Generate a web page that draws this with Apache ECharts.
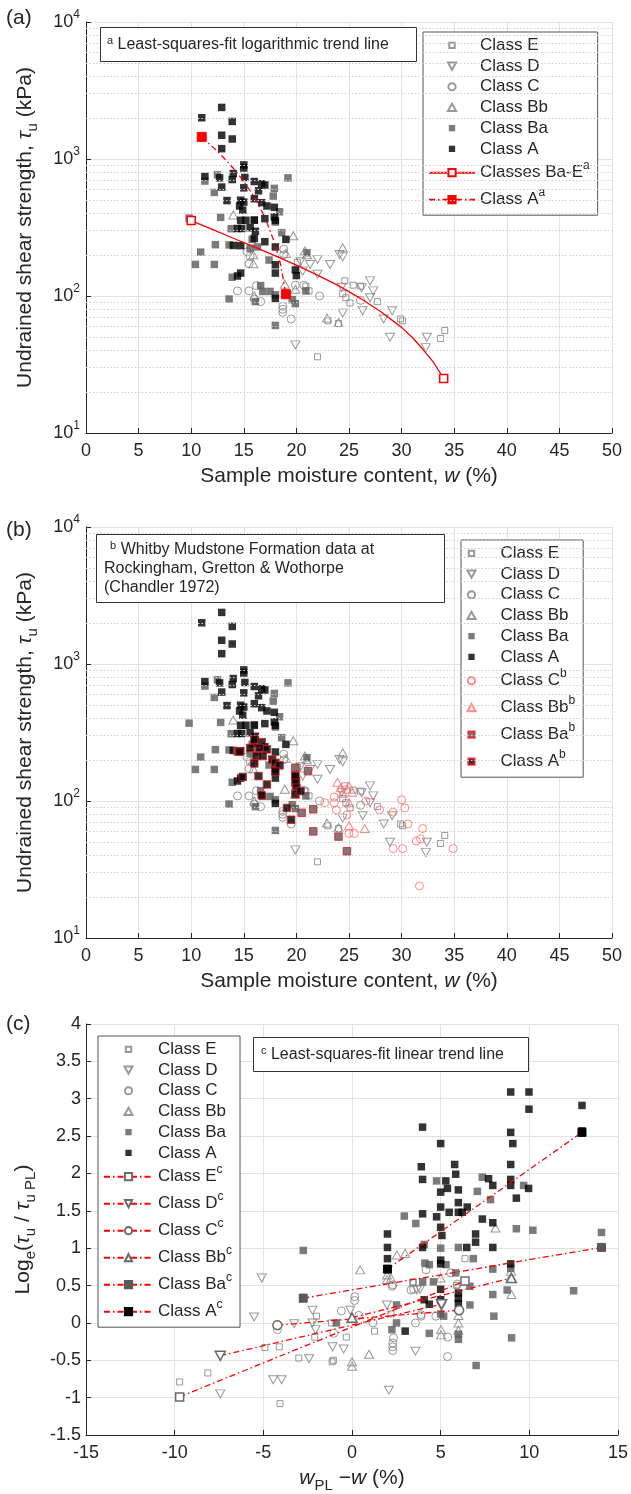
<!DOCTYPE html>
<html>
<head>
<meta charset="utf-8">
<script src="https://cdn.jsdelivr.net/npm/echarts/dist/echarts.min.js"></script>
<style>
  html, body { margin: 0; padding: 0; background: #fff; }
  #chart { width: 631px; height: 1494px; }
</style>
</head>
<body>
<div id="chart"></div>
<script>
// ---------- Panel (a) / (b): shear strength vs moisture content  [w (%), tau_u (kPa)] ----------
const wClassE = [[20.1,176],[20.9,118],[21.2,109],[22.0,36],[23.0,66],[24.0,63],[24.4,104],[24.6,129],[24.7,97],[25.1,89],[25.4,120],[26.1,118],[27.7,91],[29.9,68],[30.1,66],[33.7,49],[34.1,56]];
const wClassD = [[19.9,44],[20.4,178],[20.6,152],[21.3,170],[22.0,185],[22.0,144],[23.2,170],[24.1,201],[24.4,193],[24.3,116],[24.4,75],[26.2,115],[26.3,78],[27.0,129],[27.3,109],[27.0,97],[28.3,68],[28.9,50],[29.1,78],[32.4,50],[32.3,42]];
const wClassC = [[14.4,109],[15.5,109],[16.2,119],[16.6,91],[16.0,95],[15.3,210],[15.6,195],[18.8,220],[18.8,200],[18.7,84],[18.7,80],[18.7,76],[19.5,68],[19.9,120],[20.7,120],[22.2,100],[26.1,93],[15.5,172]];
const wClassBb = [[14.0,390],[15.9,172],[15.9,200],[16.0,100],[19.0,205],[19.7,275],[19.9,112],[20.8,213],[21.0,200],[22.9,69],[24.0,64],[24.4,225],[18.9,122]];
const wClassBa = [[9.8,370],[10.4,170],[10.9,209],[11.3,690],[12.2,570],[12.2,170],[12.3,237],[12.5,766],[12.8,375],[13.6,236],[13.6,95],[13.8,310],[13.9,137],[15.8,259],[16.0,360],[16.3,228],[15.6,223],[17.4,183],[16.6,119],[17.5,108],[16.8,108],[16.1,91],[17.9,610],[19.2,728],[17.8,536],[18.4,412],[18.0,347],[18.6,290],[18.0,102],[18.0,61],[19.6,94],[19.9,88],[21.0,207],[20.9,109]];
const wClassA = [[12.9,2380],[11.0,2000],[13.9,1880],[12.9,1490],[13.9,1400],[12.9,1190],[15.0,905],[15.0,860],[11.3,745],[12.7,728],[14.0,783],[13.9,708],[15.1,733],[16.0,685],[16.7,660],[17.0,646],[12.9,624],[15.0,616],[16.4,586],[13.4,497],[14.7,500],[15.0,485],[16.0,513],[16.7,480],[17.2,454],[17.9,444],[14.6,454],[14.9,423],[15.2,357],[14.7,357],[16.0,357],[17.0,367],[18.0,356],[17.9,378],[14.4,311],[14.8,311],[15.6,315],[16.1,297],[14.0,234],[14.7,233],[16.0,263],[17.0,249],[19.0,259],[18.0,228],[14.7,147],[14.4,140],[18.0,169],[18.0,147],[19.9,155],[20.0,141],[18.0,96]];

// logarithmic trend lines (a)
const trendBaE = [[10,355],[12,306],[14,264],[16,228],[18,196],[20,168],[22,142],[24,119],[26,97],[28,77],[30,59],[31,50],[32,41],[33,33],[34,25]];
const trendA = [[11,1450],[12,1236],[13,1039],[14,856],[15,686],[16,527],[17,377],[18,236],[18.5,169],[19,103]];

// Chandler (1972) Whitby Mudstone data (b)
const chandlerC = [[23.6,107],[22.7,97],[23.6,97],[23.8,86],[24.8,79],[25.5,58],[25.0,58],[26.6,100],[27.9,86],[29.2,83],[30.0,102],[30.3,89],[30.6,68],[29.2,45],[30.1,45],[32.0,63],[31.8,53],[31.4,51],[31.7,24],[34.9,45],[24.7,121]];
const chandlerBb = [[23.9,137],[25.0,129],[25.3,116],[24.4,114],[25.0,97],[25.0,66],[26.5,63],[24.2,125]];
const chandlerBa = [[21.1,165],[20.5,82],[21.6,87],[21.6,60],[24.0,55],[24.8,43],[19.9,175],[14.4,230]];
const chandlerA = [[16.0,281],[16.7,269],[15.6,244],[16.5,244],[17.2,238],[14.6,229],[16.2,213],[16.8,213],[17.7,201],[18.0,190],[18.4,182],[16.0,188],[14.9,150],[16.4,152],[18.0,164],[17.2,132],[19.9,152],[19.9,136],[20.0,125],[19.9,112],[20.4,118],[16.7,110],[19.1,89],[19.5,73]];

// ---------- Panel (c): Log_e(tau_u / tau_uPL) vs (w_PL - w)  [x (%), y] ----------
const dClassE = [[-9.72,-0.79],[-9.72,-0.99],[-8.13,-0.67],[-4.91,-0.33],[-4.1,-0.32],[-4.06,-1.08],[-3.0,-0.47],[-2.1,-0.19],[-1.12,-0.52],[-1.05,-0.5],[-0.32,-0.19],[-2.0,0.09],[-1.16,0.0],[1.27,-0.11],[3.46,0.55],[6.37,0.86],[6.37,0.55],[3.42,0.54],[2.2,0.12],[5.9,0.5]];
const dClassD = [[-7.43,-0.44],[-7.43,-0.95],[-5.52,0.08],[-5.09,0.60],[-3.26,-0.01],[-2.23,0.17],[-2.23,0.0],[-2.06,-0.09],[-1.1,-0.32],[-0.47,-0.35],[-2.42,-0.48],[-4.44,-0.76],[-3.97,-0.76],[-0.09,0.17],[2.08,-0.9],[1.97,0.24],[3.58,-0.38],[3.84,0.45],[5.02,0.24],[3.66,0.44],[5.05,0.22]];
const dClassC = [[-4.21,-0.02],[-4.21,-0.09],[-0.6,0.16],[0.15,0.35],[0.15,0.30],[0.39,0.1],[1.18,0.0],[2.3,-0.27],[2.3,-0.32],[2.3,-0.37],[2.3,0.51],[2.34,-0.2],[3.33,0.44],[3.58,0.0],[4.18,0.71],[5.39,-0.45],[3.9,0.09],[-1.03,-0.14],[3.48,0.45],[2.26,0.49],[5.57,0.67],[5.94,0.52],[6.04,0.18],[4.73,0.09],[3.89,0.11],[5.4,-0.19]];
const dClassBb = [[0.46,0.71],[1.97,0.64],[1.97,0.58],[3.0,0.93],[2.53,0.91],[0.96,-0.42],[0.0,0.07],[0.0,-0.52],[0.0,-0.58],[5.02,-0.09],[5.02,-0.16],[8.09,1.27],[8.97,0.69],[8.97,0.62],[8.99,0.38],[5.0,0.6],[6.0,0.1],[6.0,0.0],[6.0,-0.1],[2.2,0.6]];
const dClassBa = [[-2.75,0.97],[-2.75,0.34],[2.51,0.24],[2.25,-0.09],[2.51,0.0],[-0.88,0.0],[3.99,0.55],[4.59,0.55],[4.36,0.78],[5.3,0.78],[5.17,0.09],[4.36,-0.14],[4.77,1.90],[7.35,1.95],[7.81,1.65],[9.68,1.84],[7.07,1.76],[2.95,1.43],[3.6,1.33],[9.27,1.26],[10.2,1.24],[14.07,1.21],[14.07,1.01],[12.5,0.43],[4.07,1.05],[6.0,1.01],[6.84,0.86],[7.94,0.72],[7.94,0.38],[8.95,0.73],[8.75,0.44],[8.0,0.09],[4.11,0.80],[5.85,0.67],[6.65,0.49],[6.65,0.24],[9.0,-0.2],[7.0,-0.57],[5.0,1.0],[6.0,-0.22],[6.0,-0.15],[5.0,0.12]];
const dClassA = [[8.95,3.09],[9.98,3.09],[9.98,2.86],[12.97,2.91],[12.97,2.57],[8.95,2.55],[9.07,2.40],[8.95,2.12],[3.98,2.62],[5.0,2.40],[3.91,2.09],[3.98,1.92],[5.85,1.99],[5.29,1.90],[5.0,1.75],[5.38,1.80],[6.0,1.78],[5.79,2.12],[7.7,1.93],[7.94,1.84],[8.95,1.92],[8.95,1.84],[9.96,1.80],[9.27,1.67],[5.0,1.55],[3.98,1.46],[4.77,1.42],[5.48,1.48],[6.0,1.61],[6.0,1.48],[6.5,1.55],[6.22,1.48],[7.35,1.39],[7.94,1.34],[2.0,1.19],[2.0,1.01],[2.0,0.86],[2.0,0.72],[3.98,1.01],[5.0,1.28],[5.07,1.17],[6.97,1.19],[6.97,1.08],[6.47,1.01],[7.94,1.01],[5.0,0.84],[5.0,0.79],[8.95,0.79],[5.0,0.45],[4.07,0.31],[4.36,0.25],[6.0,0.40],[6.0,0.33],[6.0,0.26],[3.0,-0.11],[5.0,0.31]];

// linear trend lines (c)
const lineE = [[-9.72,-0.99],[6.37,0.56]];
const lineD = [[-7.43,-0.44],[5.05,0.25]];
const lineC = [[-4.21,-0.03],[6.04,0.17]];
const lineBb = [[0.0,0.07],[8.99,0.60]];
const lineBa = [[-2.75,0.33],[14.07,1.01]];
const lineA = [[2.0,0.72],[12.97,2.55]];

// ---------- styling ----------
const FONT = '"Liberation Sans", Arial, Helvetica, sans-serif';
const INK = '#262626';
const GREY = '#808080';
const BA_FILL = '#5a5a5a';
const RED = '#ff0000';
const PINK = '#ff6c6c';
const DASHDOT = [6, 3, 1.5, 3];

const hollow = (c, w) => ({ color: 'rgba(255,255,255,0)', borderColor: c, borderWidth: w || 1 });

const classStyle = {
  E:  { symbol: 'rect', symbolSize: 6, itemStyle: hollow(GREY) },
  D:  { symbol: 'triangle', symbolRotate: 180, symbolSize: [9, 8], itemStyle: hollow(GREY) },
  C:  { symbol: 'circle', symbolSize: 8, itemStyle: hollow(GREY) },
  Bb: { symbol: 'triangle', symbolSize: [9, 8], itemStyle: hollow(GREY) },
  Ba: { symbol: 'rect', symbolSize: 7.5, itemStyle: { color: BA_FILL } },
  A:  { symbol: 'rect', symbolSize: 7.5, itemStyle: { color: '#000' } }
};

// legend glyphs (path icons keep their aspect inside the legend icon box)
const ICON = {
  E:  'path://M0,0M10,10M2,2H8V8H2Z',
  D:  'path://M0,0M10,10M0.5,1H9.5L5,9Z',
  C:  'path://M0,0M10,10M1,5A4,4,0,1,1,9,5A4,4,0,1,1,1,5Z',
  Bb: 'path://M0,0M10,10M5,1L9.5,9H0.5Z',
  sq: 'path://M0,0M10,10M1.5,1.5H8.5V8.5H1.5Z'
};

function scatter(name, data, style, p, z) {
  return Object.assign({
    type: 'scatter', name, data, xAxisIndex: p, yAxisIndex: p, z: z || 2, silent: true
  }, style);
}

// symbols only on the two ends of a trend line
function endMarked(arr) {
  return arr.map((pt, i) => (i === 0 || i === arr.length - 1) ? { value: pt } : { value: pt, symbol: 'none' });
}

function trend(name, data, p, symbol, symbolSize, itemStyle, lineType, symbolRotate) {
  return {
    type: 'line', name, data: endMarked(data), xAxisIndex: p, yAxisIndex: p, z: 5, silent: true,
    symbol, symbolSize, symbolRotate: symbolRotate || 0, itemStyle,
    lineStyle: { color: RED, width: 1.3, type: lineType }
  };
}

// dotted minor grid lines on the log axes (2..9 in each decade)
const minorVals = [];
[10, 100, 1000].forEach(d => { for (let k = 2; k <= 9; k++) minorVals.push(d * k); });
function minorGrid(p) {
  return {
    type: 'line', name: 'minor-grid-' + p, data: [], xAxisIndex: p, yAxisIndex: p, z: 0, silent: true,
    markLine: {
      silent: true, symbol: ['none', 'none'], label: { show: false }, animation: false,
      lineStyle: { color: '#cdcdcd', width: 1, type: [1.5, 2] },
      data: minorVals.map(v => ({ yAxis: v }))
    }
  };
}

const supFmt = name => {
  const m = name.match(/^(.*)\^(\w+)$/);
  return m ? '{n|' + m[1] + '}{s|' + m[2] + '}' : '{n|' + name + '}';
};

const legendText = {
  fontFamily: FONT, fontSize: 17, color: INK, lineHeight: 20.7,
  rich: {
    n: { fontFamily: FONT, fontSize: 17, color: INK },
    s: { fontFamily: FONT, fontSize: 12, color: INK, verticalAlign: 'top', lineHeight: 27 }
  }
};

const classItems = [
  { name: 'Class E', icon: ICON.E, symbolRotate: 0 },
  { name: 'Class D', icon: ICON.D, symbolRotate: 0 },
  { name: 'Class C', icon: ICON.C },
  { name: 'Class Bb', icon: ICON.Bb },
  { name: 'Class Ba', icon: ICON.sq },
  { name: 'Class A', icon: ICON.sq }
];

function legend(left, top, items, itemWidth) {
  return {
    orient: 'vertical', left, top, data: items, selectedMode: false,
    itemWidth, itemHeight: 9, itemGap: 0, symbolKeepAspect: true,
    padding: [3, 8, 2, 5], borderColor: '#555', borderWidth: 1, backgroundColor: '#fff',
    textStyle: legendText, formatter: supFmt
  };
}

const noteStyle = (w) => ({
  fontFamily: FONT, fontSize: 16, fontWeight: 'normal', color: INK, lineHeight: 19, width: w,
  rich: {
    n: { fontFamily: FONT, fontSize: 16, fontWeight: 'normal', color: INK },
    s: { fontFamily: FONT, fontSize: 11, fontWeight: 'normal', color: INK, verticalAlign: 'top', lineHeight: 19 }
  }
});

const nameRich = {
  n: { fontFamily: FONT, fontSize: 21, color: INK },
  i: { fontFamily: FONT, fontSize: 21, color: INK, fontStyle: 'italic' },
  t: { fontFamily: FONT, fontSize: 21, color: INK, fontStyle: 'italic' },
  sub: { fontFamily: FONT, fontSize: 15, color: INK, verticalAlign: 'bottom' }
};
const nameStyle = { fontFamily: FONT, fontSize: 21, color: INK, lineHeight: 30, rich: nameRich };

const axisLine = { show: true, onZero: false, lineStyle: { color: INK, width: 1 } };
const axisTick = { show: true, inside: true, length: 5, lineStyle: { color: INK } };
const splitLine = { show: true, lineStyle: { color: '#e2e2e2', width: 1 } };
const tickLabel = { fontFamily: FONT, fontSize: 18, color: INK };

function xAxisW(p) {
  return {
    type: 'value', gridIndex: p, min: 0, max: 50, interval: 5,
    axisLine, axisTick, splitLine,
    axisLabel: Object.assign({ margin: 9 }, tickLabel),
    name: '{n|Sample moisture content, }{i|w}{n| (%)}', nameLocation: 'middle', nameGap: 28,
    nameTextStyle: nameStyle
  };
}

function yAxisTau(p) {
  return {
    type: 'log', logBase: 10, gridIndex: p, min: 10, max: 10000, splitNumber: 3,
    axisLine, axisTick, splitLine,
    axisLabel: {
      margin: 6, fontFamily: FONT, fontSize: 18, color: INK, lineHeight: 26,
      formatter: v => '{b|10}{p|' + Math.round(Math.log10(v)) + '}',
      rich: {
        b: { fontFamily: FONT, fontSize: 18, color: INK },
        p: { fontFamily: FONT, fontSize: 12, color: INK, verticalAlign: 'top' }
      }
    },
    name: '{n|Undrained shear strength, }{t|τ}{sub|u}{n| (kPa)}',
    nameLocation: 'middle', nameGap: 46, nameRotate: 90, nameTextStyle: nameStyle
  };
}

const panelLabel = { fontFamily: FONT, fontSize: 21, fontWeight: 'normal', color: INK };

const option = {
  animation: false,
  backgroundColor: '#fff',
  grid: [
    { left: 86, right: 19, top: 22, height: 411 },
    { left: 86, right: 19, top: 527, height: 411 },
    { left: 85, right: 11, top: 1024, height: 411 }
  ],
  xAxis: [
    xAxisW(0),
    xAxisW(1),
    {
      type: 'value', gridIndex: 2, min: -15, max: 15, interval: 5,
      axisLine, axisTick, splitLine,
      axisLabel: Object.assign({ margin: 9 }, tickLabel),
      name: '{i|w}{sub|PL}{n| −}{i|w}{n| (%)}', nameLocation: 'middle', nameGap: 28,
      nameTextStyle: nameStyle
    }
  ],
  yAxis: [
    yAxisTau(0),
    yAxisTau(1),
    {
      type: 'value', gridIndex: 2, min: -1.5, max: 4, interval: 0.5,
      axisLine, axisTick, splitLine,
      axisLabel: Object.assign({ margin: 5 }, tickLabel),
      name: '{n|Log}{sub|e}{n|(}{t|τ}{sub|u}{n| / }{t|τ}{sub|u PL}{n|)}',
      nameLocation: 'middle', nameGap: 48, nameRotate: 90, nameTextStyle: nameStyle
    }
  ],
  title: [
    { text: '(a)', left: 6, top: 8, padding: 0, textStyle: panelLabel },
    { text: '(b)', left: 6, top: 520, padding: 0, textStyle: panelLabel },
    { text: '(c)', left: 6, top: 1014, padding: 0, textStyle: panelLabel },
    {
      text: '{s|a}{n| Least-squares-fit logarithmic trend line}',
      left: 100, top: 27, padding: [8, 8, 8, 7], borderColor: '#333', borderWidth: 1, backgroundColor: '#fff',
      textStyle: noteStyle(302)
    },
    {
      text: '{s|  b}{n| Whitby Mudstone Formation data at}\n{n|Rockingham, Gretton & Wothorpe}\n{n|(Chandler 1972)}',
      left: 96, top: 534, padding: [6, 8, 6, 8], borderColor: '#333', borderWidth: 1, backgroundColor: '#fff',
      textStyle: noteStyle(333)
    },
    {
      text: '{s|c}{n| Least-squares-fit linear trend line}',
      left: 253, top: 1037, padding: [8, 8, 8, 8], borderColor: '#333', borderWidth: 1, backgroundColor: '#fff',
      textStyle: noteStyle(260)
    }
  ],
  legend: [
    legend(423, 32, classItems.concat([{ name: 'Classes Ba-E^a' }, { name: 'Class A^a' }]), 46),
    legend(461, 540, classItems.concat([
      { name: 'Class C^b', icon: ICON.C },
      { name: 'Class Bb^b', icon: ICON.Bb },
      { name: 'Class Ba^b', icon: ICON.sq },
      { name: 'Class A^b', icon: ICON.sq }
    ]), 48),
    legend(98, 1036, classItems.concat([
      { name: 'Class E^c' }, { name: 'Class D^c' }, { name: 'Class C^c' },
      { name: 'Class Bb^c' }, { name: 'Class Ba^c' }, { name: 'Class A^c' }
    ]), 49)
  ],
  series: [
    // (a)
    minorGrid(0),
    scatter('Class E', wClassE, classStyle.E, 0),
    scatter('Class D', wClassD, classStyle.D, 0),
    scatter('Class C', wClassC, classStyle.C, 0),
    scatter('Class Bb', wClassBb, classStyle.Bb, 0),
    scatter('Class Ba', wClassBa, classStyle.Ba, 0, 3),
    scatter('Class A', wClassA, classStyle.A, 0, 4),
    trend('Classes Ba-E^a', trendBaE, 0, 'rect', 8, { color: '#fff', borderColor: RED, borderWidth: 1.5 }, 'solid'),
    trend('Class A^a', trendA, 0, 'rect', 9, { color: RED, borderColor: RED, borderWidth: 1 }, DASHDOT),

    // (b)
    minorGrid(1),
    scatter('Class E', wClassE, classStyle.E, 1),
    scatter('Class D', wClassD, classStyle.D, 1),
    scatter('Class C', wClassC, classStyle.C, 1),
    scatter('Class Bb', wClassBb, classStyle.Bb, 1),
    scatter('Class Ba', wClassBa, classStyle.Ba, 1, 3),
    scatter('Class A', wClassA, classStyle.A, 1, 4),
    scatter('Class C^b', chandlerC, { symbol: 'circle', symbolSize: 8, itemStyle: hollow(PINK) }, 1, 5),
    scatter('Class Bb^b', chandlerBb, { symbol: 'triangle', symbolSize: [9, 8], itemStyle: hollow(PINK) }, 1, 5),
    scatter('Class Ba^b', chandlerBa, { symbol: 'rect', symbolSize: 7.5, itemStyle: { color: BA_FILL, borderColor: '#e8141c', borderWidth: 1 } }, 1, 6),
    scatter('Class A^b', chandlerA, { symbol: 'rect', symbolSize: 7.5, itemStyle: { color: '#000', borderColor: '#e8141c', borderWidth: 1 } }, 1, 6),

    // (c)
    scatter('Class E', dClassE, classStyle.E, 2),
    scatter('Class D', dClassD, classStyle.D, 2),
    scatter('Class C', dClassC, classStyle.C, 2),
    scatter('Class Bb', dClassBb, classStyle.Bb, 2),
    scatter('Class Ba', dClassBa, classStyle.Ba, 2, 3),
    scatter('Class A', dClassA, classStyle.A, 2, 4),
    trend('Class E^c', lineE, 2, 'rect', 8, { color: '#fff', borderColor: '#6a6a6a', borderWidth: 1.5 }, DASHDOT),
    trend('Class D^c', lineD, 2, 'triangle', [10, 9], { color: '#fff', borderColor: '#6a6a6a', borderWidth: 1.5 }, DASHDOT, 180),
    trend('Class C^c', lineC, 2, 'circle', 9, { color: '#fff', borderColor: '#6a6a6a', borderWidth: 1.5 }, DASHDOT),
    trend('Class Bb^c', lineBb, 2, 'triangle', [10, 9], { color: '#fff', borderColor: '#6a6a6a', borderWidth: 1.5 }, DASHDOT),
    trend('Class Ba^c', lineBa, 2, 'rect', 8, { color: BA_FILL, borderColor: BA_FILL, borderWidth: 1 }, DASHDOT),
    trend('Class A^c', lineA, 2, 'rect', 8, { color: '#000', borderColor: '#000', borderWidth: 1 }, DASHDOT)
  ]
};

const chart = echarts.init(document.getElementById('chart'), null, { renderer: 'canvas' });
chart.setOption(option);
</script>
</body>
</html>
